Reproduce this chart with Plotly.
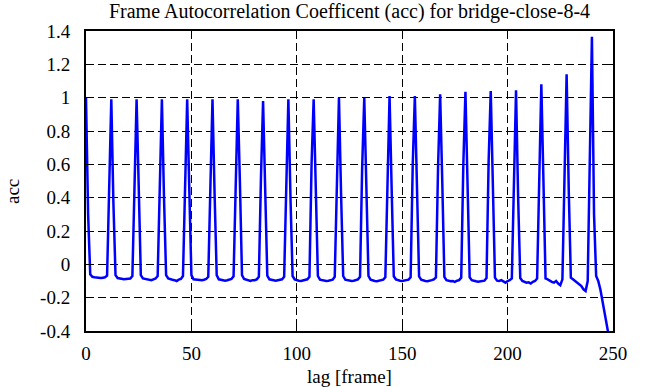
import plotly.graph_objects as go

# lags 0..248 (one row per 12-frame period)
acc = [
    # 0-11
    1.00, 0.30, -0.06, -0.075, -0.078, -0.080, -0.080, -0.082, -0.080, -0.078, -0.068, 0.42,
    # 12-23
    0.99, 0.37, -0.065, -0.082, -0.085, -0.088, -0.090, -0.088, -0.088, -0.085, -0.070, 0.50,
    # 24-35
    0.99, 0.47, -0.065, -0.085, -0.088, -0.090, -0.092, -0.095, -0.090, -0.085, -0.070, 0.45,
    # 36-47
    0.99, 0.40, -0.065, -0.085, -0.090, -0.092, -0.095, -0.100, -0.092, -0.088, -0.070, 0.55,
    # 48-59
    0.99, 0.45, -0.065, -0.090, -0.092, -0.092, -0.095, -0.095, -0.092, -0.088, -0.075, 0.50,
    # 60-71
    0.99, 0.42, -0.065, -0.090, -0.092, -0.095, -0.098, -0.095, -0.092, -0.088, -0.072, 0.48,
    # 72-83
    0.99, 0.50, -0.065, -0.088, -0.092, -0.095, -0.100, -0.095, -0.095, -0.090, -0.075, 0.52,
    # 84-95
    0.98, 0.45, -0.068, -0.090, -0.092, -0.095, -0.098, -0.095, -0.092, -0.090, -0.075, 0.55,
    # 96-107
    0.99, 0.40, -0.070, -0.090, -0.095, -0.098, -0.100, -0.098, -0.095, -0.090, -0.075, 0.60,
    # 108-119
    0.99, 0.45, -0.070, -0.092, -0.095, -0.098, -0.100, -0.098, -0.095, -0.092, -0.075, 0.55,
    # 120-131
    1.00, 0.42, -0.070, -0.092, -0.095, -0.100, -0.100, -0.098, -0.095, -0.090, -0.075, 0.58,
    # 132-143
    1.00, 0.50, -0.070, -0.092, -0.098, -0.100, -0.102, -0.100, -0.098, -0.092, -0.078, 0.55,
    # 144-155
    1.01, 0.45, -0.072, -0.090, -0.095, -0.098, -0.100, -0.098, -0.095, -0.092, -0.078, 0.60,
    # 156-167
    1.01, 0.48, -0.072, -0.092, -0.098, -0.100, -0.102, -0.100, -0.095, -0.090, -0.078, 0.58,
    # 168-179
    1.02, 0.50, -0.075, -0.095, -0.098, -0.102, -0.100, -0.105, -0.098, -0.095, -0.080, 0.60,
    # 180-191
    1.035, 0.52, -0.078, -0.095, -0.100, -0.102, -0.105, -0.102, -0.100, -0.098, -0.082, 0.62,
    # 192-203
    1.04, 0.55, -0.080, -0.098, -0.100, -0.095, -0.105, -0.110, -0.100, -0.095, -0.085, 0.45,
    # 204-215
    1.045, 0.40, -0.082, -0.100, -0.105, -0.110, -0.108, -0.115, -0.105, -0.100, -0.085, 0.55,
    # 216-227
    1.08, 0.50, -0.085, -0.090, -0.100, -0.105, -0.110, -0.100, -0.115, -0.125, -0.090, 0.55,
    # 228-239
    1.14, 0.45, -0.080, -0.090, -0.100, -0.110, -0.115, -0.130, -0.150, -0.160, -0.100, 0.60,
    # 240-248
    1.365, 0.30, -0.070, -0.100, -0.150, -0.220, -0.290, -0.360, -0.430,
]
lag = list(range(len(acc)))

x_ticks = [0, 50, 100, 150, 200, 250]
y_ticks = [-0.4, -0.2, 0, 0.2, 0.4, 0.6, 0.8, 1, 1.2, 1.4]
y_labels = ["-0.4", "-0.2", "0", "0.2", "0.4", "0.6", "0.8", "1", "1.2", "1.4"]

FONT = "Liberation Serif"

fig = go.Figure()
fig.add_trace(go.Scatter(x=lag, y=acc, mode="lines",
                         line=dict(color="#0000ff", width=2.5), showlegend=False))

def axis_style():
    return dict(
        showline=True, linecolor="black", linewidth=2, mirror="allticks",
        ticks="inside", ticklen=6, tickcolor="black", tickwidth=1,
        showgrid=True, gridcolor="black", gridwidth=1, griddash="8px,4px",
        zeroline=False, tickfont=dict(family=FONT, size=19, color="black"),
    )

fig.update_layout(
    width=656, height=387,
    margin=dict(l=86, r=43, t=31, b=56),
    paper_bgcolor="white", plot_bgcolor="white",
    font=dict(family=FONT, size=19, color="black"),
    title=dict(text="Frame Autocorrelation Coefficent (acc) for bridge-close-8-4",
               x=(86 + 527 / 2) / 656, xanchor="center", y=1 - 11 / 387, yanchor="middle",
               font=dict(family=FONT, size=20, color="black")),
    xaxis=dict(range=[0, 250], tickvals=x_ticks, ticktext=[str(v) for v in x_ticks],
               ticklabelstandoff=4, **axis_style()),
    yaxis=dict(range=[-0.4, 1.4], tickvals=y_ticks, ticktext=y_labels,
               ticklabelstandoff=10, **axis_style()),
    annotations=[
        dict(text="lag [frame]", xref="paper", yref="paper", x=0.5, y=-(376 - 331) / 300,
             xanchor="center", yanchor="middle", showarrow=False,
             font=dict(family=FONT, size=19, color="black")),
        dict(text="acc", xref="paper", yref="paper", x=(12 - 86) / 527, y=(331 - 192) / 300,
             xanchor="center", yanchor="middle", showarrow=False, textangle=-90,
             font=dict(family=FONT, size=19, color="black")),
    ],
)

fig.write_html("out.html")
